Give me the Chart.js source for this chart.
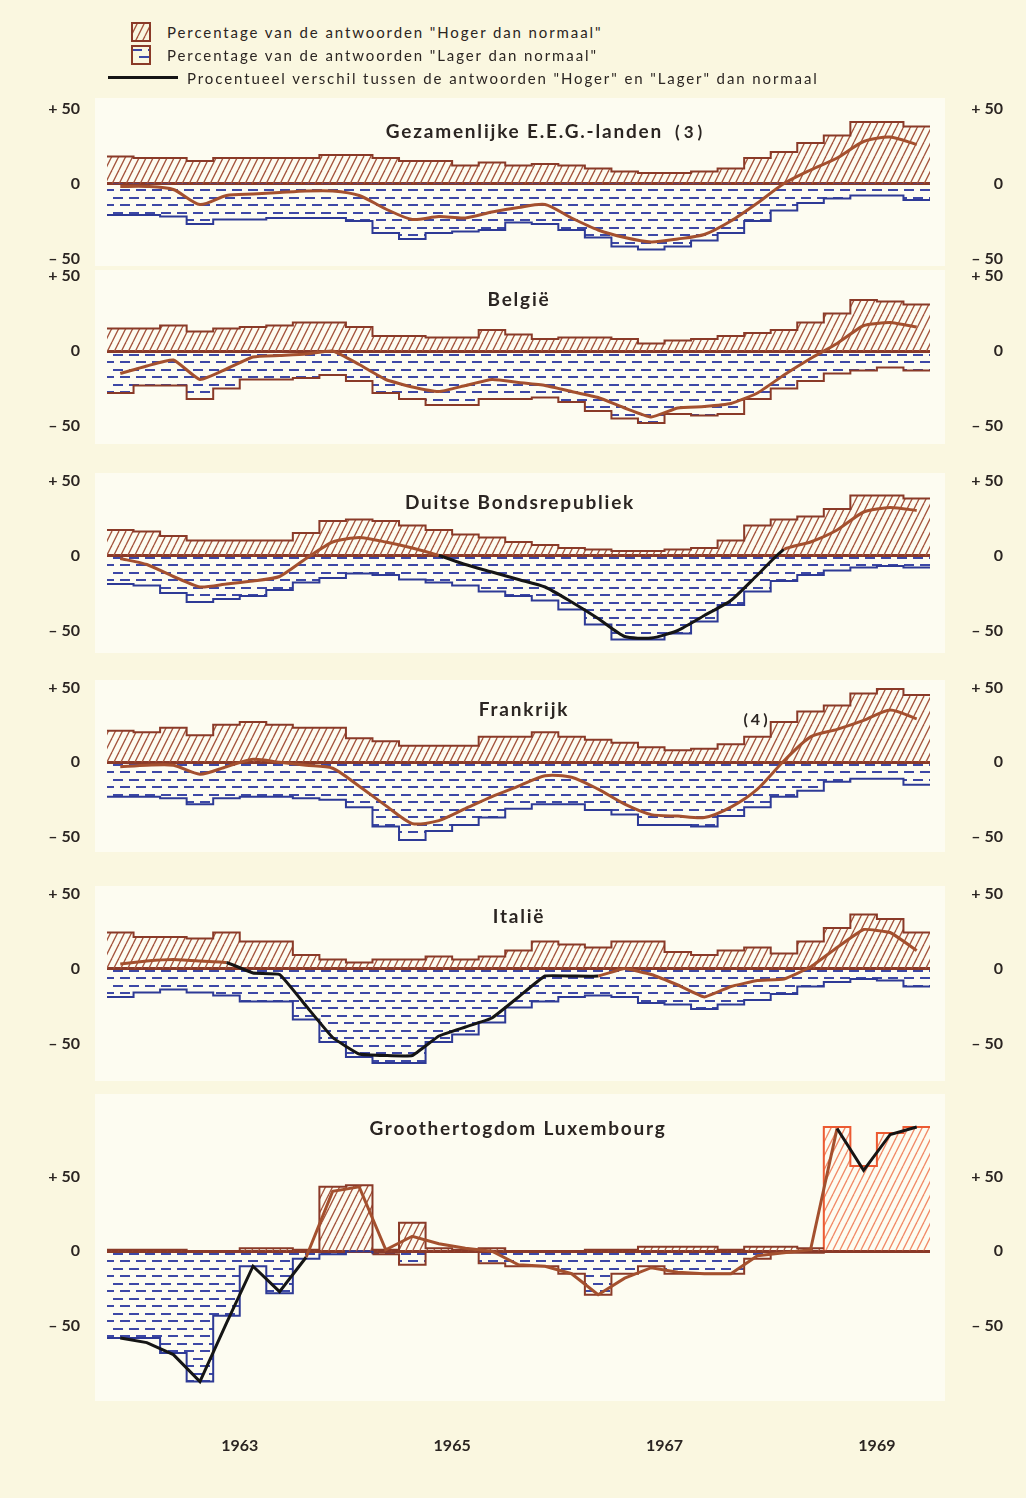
<!DOCTYPE html>
<html>
<head>
<meta charset="utf-8">
<script src="https://cdn.jsdelivr.net/npm/chart.js@4.4.0/dist/chart.umd.min.js"></script>
<style>
  body { margin: 0; background: #faf7e0; }
  #page { position: relative; width: 1026px; height: 1498px; overflow: hidden;
          font-family: Lato, "Noto Sans", sans-serif; color: #2b2522; }
  canvas.panel { position: absolute; left: 0; }
  .title { position: absolute; font-weight: 700; font-size: 19px; letter-spacing: 1.8px;
           transform: translate(-50%, -50%); white-space: nowrap; }
  .leg { position: absolute; font-size: 15px; letter-spacing: 1.9px; white-space: nowrap; line-height: 18px; }
</style>
</head>
<body>
<div id="page">
  <canvas id="sw1" width="20" height="20" style="position:absolute;left:131px;top:22px"></canvas>
  <canvas id="sw2" width="20" height="20" style="position:absolute;left:131px;top:45px"></canvas>
  <div style="position:absolute;left:108px;top:76px;width:70px;height:3px;background:#151515"></div>
  <div class="leg" style="left:167px;top:23px">Percentage van de antwoorden "Hoger dan normaal"</div>
  <div class="leg" style="left:167px;top:46px">Percentage van de antwoorden "Lager dan normaal"</div>
  <div class="leg" style="left:187px;top:69px">Procentueel verschil tussen de antwoorden "Hoger" en "Lager" dan normaal</div>
</div>
<script>
// quarters, first survey 1962 II, last 1969 IV
const periods = [
  "1962 II", "1962 III", "1962 IV",
  "1963 I", "1963 II", "1963 III", "1963 IV",
  "1964 I", "1964 II", "1964 III", "1964 IV",
  "1965 I", "1965 II", "1965 III", "1965 IV",
  "1966 I", "1966 II", "1966 III", "1966 IV",
  "1967 I", "1967 II", "1967 III", "1967 IV",
  "1968 I", "1968 II", "1968 III", "1968 IV",
  "1969 I", "1969 II", "1969 III", "1969 IV"
];
const yearLabels = ["1963", "1965", "1967", "1969"];
const yTickValues = [-50, 0, 50];

const eegHoger = [18, 17, 17, 15, 17, 17, 17, 17, 19, 19, 17, 15, 15, 12, 14, 12, 13, 12, 10, 8, 7, 7, 8, 10, 17, 21, 27, 32, 41, 41, 38];
const eegLager = [-21, -21, -22, -27, -24, -24, -23, -23, -23, -25, -33, -37, -33, -32, -31, -26, -27, -31, -36, -42, -44, -42, -38, -33, -25, -18, -13, -10, -8, -8, -11];
const eegDiff  = [-2, -2, -4, -14, -8, -7, -6, -5, -5, -8, -17, -24, -22, -23, -19, -16, -14, -23, -31, -36, -39, -37, -34, -25, -13, 0, 9, 17, 28, 31, 26];

const belHoger = [15, 15, 17, 13, 15, 16, 17, 19, 19, 16, 10, 10, 9, 9, 14, 11, 8, 9, 9, 8, 5, 7, 8, 10, 12, 14, 19, 25, 34, 33, 31];
const belLager = [-28, -23, -23, -32, -25, -19, -19, -18, -16, -20, -28, -32, -36, -36, -32, -32, -31, -34, -40, -45, -48, -42, -43, -42, -32, -25, -20, -15, -13, -11, -13];
const belDiff  = [-15, -10, -6, -19, -12, -4, -3, -2, 0, -9, -19, -24, -27, -23, -19, -21, -23, -27, -31, -38, -44, -38, -37, -35, -28, -16, -5, 5, 17, 19, 16];

const dduHoger = [17, 16, 13, 10, 10, 10, 10, 15, 23, 24, 23, 20, 17, 14, 12, 9, 7, 5, 4, 3, 3, 4, 5, 10, 20, 24, 26, 31, 40, 40, 38];
const dduLager = [-19, -20, -25, -31, -29, -27, -23, -18, -15, -12, -13, -16, -18, -20, -24, -27, -30, -36, -46, -56, -56, -52, -44, -33, -24, -17, -13, -10, -8, -7, -8];
const dduDiff  = [-2, -6, -14, -21, -19, -17, -14, -2, 9, 12, 9, 5, 0, -6, -11, -16, -21, -31, -42, -54, -55, -50, -40, -30, -13, 4, 9, 17, 29, 32, 30];

const fraHoger = [21, 20, 23, 18, 25, 27, 25, 23, 23, 16, 14, 11, 11, 11, 17, 17, 20, 17, 15, 13, 10, 8, 9, 12, 17, 27, 34, 38, 46, 49, 45];
const fraLager = [-23, -23, -24, -28, -24, -23, -23, -24, -25, -30, -43, -52, -46, -42, -37, -31, -28, -28, -32, -35, -42, -42, -43, -36, -30, -23, -19, -13, -11, -11, -15];
const fraDiff  = [-3, -2, -2, -8, -3, 2, 0, -2, -4, -16, -29, -41, -39, -31, -23, -16, -9, -10, -18, -28, -35, -36, -37, -30, -18, 1, 17, 22, 28, 35, 29];

const itaHoger = [24, 21, 21, 20, 24, 18, 18, 9, 6, 4, 6, 6, 8, 6, 8, 12, 18, 16, 14, 18, 18, 11, 9, 12, 14, 10, 18, 27, 36, 33, 24];
const itaLager = [-19, -16, -14, -16, -18, -22, -22, -34, -49, -59, -63, -63, -49, -44, -36, -26, -22, -19, -18, -19, -23, -24, -27, -24, -21, -17, -12, -9, -7, -8, -12];
const itaDiff  = [3, 5, 6, 5, 4, -3, -4, -25, -46, -57, -58, -58, -45, -39, -33, -19, -5, -5, -5, 0, -4, -11, -19, -12, -8, -7, 1, 14, 26, 24, 12];

const luxHoger = [1, 1, 1, 0, 0, 2, 2, 1, 43, 44, 1, 19, 2, 1, 2, 0, 0, 0, 1, 1, 3, 3, 3, 1, 3, 3, 2, 83, 57, 79, 83];
const luxLager = [-58, -58, -68, -87, -43, -10, -28, -5, -2, 0, -2, -9, 0, 0, -8, -10, -10, -15, -29, -15, -10, -15, -15, -15, -5, -1, -1, 0, 0, 0, 0];
const luxDiff  = [-58, -61, -69, -87, -48, -10, -27, -4, 40, 43, 1, 10, 5, 2, 0, -9, -10, -15, -29, -18, -11, -14, -15, -15, -3, -1, 1, 82, 54, 78, 83];

const BROWN = "#8a3a28";
const HATCH = "#a4543c";
const LINE_BROWN = "#a4502e";
const BLACK = "#151515";
const BLUE = "#2e3a96";
const DASH = "#3d48a6";
const ORANGE = "#ec5a32";
const ORANGE_HATCH = "#f28a66";
const PANEL_BG = "#fdfcf1";
const TEXT = "#2b2522";

const PX = 1.5;   // pixels per percentage point, same in every panel
const PAD = 40;   // room for the tick label padding above/below the plot

const panels = [
  { title: "Gezamenlijke E.E.G.-landen", note: "(3)", hoger: eegHoger, lager: eegLager, diff: eegDiff,
    zeroY: 183, yMin: -55, yMax: 57, tx: 546, ty: 130, black: [], tension: 0.25 },
  { title: "België", hoger: belHoger, lager: belLager, diff: belDiff,
    zeroY: 351, yMin: -62, yMax: 54, tx: 519, ty: 298, black: [], lagerBrownFrom: 0, tension: 0.15 },
  { title: "Duitse Bondsrepubliek", hoger: dduHoger, lager: dduLager, diff: dduDiff,
    zeroY: 555, yMin: -65, yMax: 55, tx: 520, ty: 501, black: [[12, 24]], tension: 0.2 },
  { title: "Frankrijk", hoger: fraHoger, lager: fraLager, diff: fraDiff,
    zeroY: 762, yMin: -60, yMax: 55, tx: 524, ty: 708, black: [], tension: 0.25 },
  { title: "Italië", hoger: itaHoger, lager: itaLager, diff: itaDiff,
    zeroY: 968, yMin: -75, yMax: 55, tx: 519, ty: 915, black: [[4, 17]], tension: 0.1 },
  { title: "Groothertogdom Luxembourg", hoger: luxHoger, lager: luxLager, diff: luxDiff,
    zeroY: 1251, yMin: -100, yMax: 105, tx: 518, ty: 1127, black: [[0, 6], [27, 29]],
    lagerBrownFrom: 10, hiFrom: 27, tension: 0 }
];

function hatchPattern(ctx, color) {
  const t = document.createElement("canvas");
  t.width = 7; t.height = 14;
  const g = t.getContext("2d");
  g.strokeStyle = color;
  g.lineWidth = 1.3;
  for (let k = -1; k <= 1; k++) {
    g.beginPath();
    g.moveTo(k * 7, 14);
    g.lineTo(k * 7 + 7, 0);
    g.stroke();
  }
  return ctx.createPattern(t, "repeat");
}

function dashPattern(ctx, color) {
  const t = document.createElement("canvas");
  t.width = 16; t.height = 15;
  const g = t.getContext("2d");
  g.fillStyle = color;
  g.fillRect(1, 4, 10, 2);
  g.fillRect(8, 11, 8, 2);
  g.fillRect(0, 11, 2, 2);
  return ctx.createPattern(t, "repeat");
}

// step outline: value i holds from x=i to x=i+1
function stepPoints(values, from, to) {
  const pts = values.slice(from, to).map((v, k) => ({ x: from + k, y: v }));
  pts.push({ x: to, y: values[to - 1] });
  return pts;
}

function yLabel(v) {
  if (v > 0) return "+ " + v;
  if (v < 0) return "– " + Math.abs(v);
  return "0";
}

const panelBackground = {
  id: "panelBackground",
  beforeDraw(chart) {
    const { ctx, chartArea } = chart;
    ctx.save();
    ctx.fillStyle = PANEL_BG;
    ctx.fillRect(95, chartArea.top, 850, chartArea.bottom - chartArea.top);
    ctx.restore();
  }
};

const page = document.getElementById("page");
const tickFont = { family: "Lato, 'Noto Sans', sans-serif", size: 16, weight: "bold" };

panels.forEach((p, n) => {
  const isLast = n === panels.length - 1;
  const axisH = isLast ? 70 : 0;
  const canvas = document.createElement("canvas");
  canvas.className = "panel";
  canvas.width = 1026;
  canvas.height = PX * (p.yMax - p.yMin) + 2 * PAD + axisH;
  canvas.style.top = (p.zeroY - PX * p.yMax - PAD) + "px";
  page.appendChild(canvas);
  const ctx = canvas.getContext("2d");

  const nPts = p.hoger.length;
  const hiFrom = p.hiFrom || nPts;
  const brownFrom = p.lagerBrownFrom === undefined ? Infinity : p.lagerBrownFrom;
  const inBlack = i => p.black.some(([a, b]) => i >= a && i <= b);

  const datasets = [
    {
      label: "Procentueel verschil",
      data: p.diff.map((v, i) => ({ x: i + 0.5, y: v })),
      borderColor: LINE_BROWN,
      borderWidth: 3,
      tension: p.tension,
      pointRadius: 0,
      fill: false,
      order: 0,
      segment: { borderColor: c => inBlack(c.p0DataIndex) ? BLACK : LINE_BROWN }
    },
    {
      label: "Hoger dan normaal",
      data: stepPoints(p.hoger, 0, hiFrom),
      stepped: true,
      fill: "origin",
      backgroundColor: hatchPattern(ctx, HATCH),
      borderColor: BROWN,
      borderWidth: 2,
      pointRadius: 0,
      order: 1
    },
    {
      label: "Lager dan normaal",
      data: stepPoints(p.lager, 0, nPts),
      stepped: true,
      fill: "origin",
      backgroundColor: dashPattern(ctx, DASH),
      borderColor: brownFrom === 0 ? BROWN : BLUE,
      borderWidth: 2,
      pointRadius: 0,
      order: 1,
      segment: { borderColor: c => c.p0DataIndex >= brownFrom ? BROWN : BLUE }
    }
  ];
  if (hiFrom < nPts) {
    datasets.push({
      label: "Hoger dan normaal (4)",
      data: [{ x: hiFrom, y: 0 }].concat(stepPoints(p.hoger, hiFrom, nPts)),
      stepped: true,
      fill: "origin",
      backgroundColor: hatchPattern(ctx, ORANGE_HATCH),
      borderColor: ORANGE,
      borderWidth: 2,
      pointRadius: 0,
      order: 1
    });
  }

  const yCommon = {
    min: p.yMin,
    max: p.yMax,
    afterBuildTicks: s => { s.ticks = yTickValues.map(v => ({ value: v })); },
    border: { display: false }
  };

  new Chart(ctx, {
    type: "line",
    data: { datasets },
    options: {
      responsive: false,
      animation: false,
      events: [],
      layout: { padding: { top: PAD, bottom: PAD, left: 0, right: 23 } },
      plugins: { legend: { display: false }, tooltip: { enabled: false } },
      scales: {
        x: {
          type: "linear",
          min: 0,
          max: periods.length,
          display: isLast,
          afterBuildTicks: s => {
            s.ticks = yearLabels.map(y => ({ value: periods.indexOf(y + " III") }));
          },
          afterFit: s => { s.height = axisH; },
          ticks: {
            callback: (v, i) => yearLabels[i],
            autoSkip: false,
            maxRotation: 0,
            padding: 35,
            color: TEXT,
            font: tickFont
          },
          grid: { display: false, drawTicks: false },
          border: { display: false }
        },
        y: Object.assign({}, yCommon, {
          position: "left",
          afterFit: s => { s.width = 107; },
          ticks: { callback: yLabel, padding: 27, color: TEXT, font: tickFont },
          grid: {
            drawTicks: false,
            color: c => (c.tick && c.tick.value === 0) ? BROWN : "rgba(0,0,0,0)",
            lineWidth: c => (c.tick && c.tick.value === 0) ? 3 : 0
          }
        }),
        yR: Object.assign({}, yCommon, {
          position: "right",
          afterFit: s => { s.width = 73; },
          ticks: { callback: yLabel, crossAlign: "far", padding: 0, color: TEXT, font: tickFont },
          grid: { display: false, drawTicks: false }
        })
      }
    },
    plugins: [panelBackground]
  });

  const t = document.createElement("div");
  t.className = "title";
  t.style.left = p.tx + "px";
  t.style.top = p.ty + "px";
  t.textContent = p.title;
  if (p.note) {
    const s = document.createElement("span");
    s.style.marginLeft = "12px";
    s.style.letterSpacing = "4px";
    s.style.fontSize = "17px";
    s.textContent = p.note;
    t.appendChild(s);
  }
  page.appendChild(t);
});

const note = document.createElement("div");
note.className = "title";
note.style.left = "757px";
note.style.top = "718px";
note.style.fontSize = "16px";
note.style.letterSpacing = "3px";
note.textContent = "(4)";
page.appendChild(note);

// legend swatches
const s1 = document.getElementById("sw1").getContext("2d");
s1.fillStyle = hatchPattern(s1, HATCH);
s1.fillRect(1, 1, 18, 18);
s1.strokeStyle = BROWN; s1.lineWidth = 2;
s1.strokeRect(1, 1, 18, 18);
const s2 = document.getElementById("sw2").getContext("2d");
s2.fillStyle = dashPattern(s2, DASH);
s2.fillRect(1, 1, 18, 18);
s2.strokeStyle = BROWN; s2.lineWidth = 2;
s2.strokeRect(1, 1, 18, 18);
</script>
</body>
</html>
